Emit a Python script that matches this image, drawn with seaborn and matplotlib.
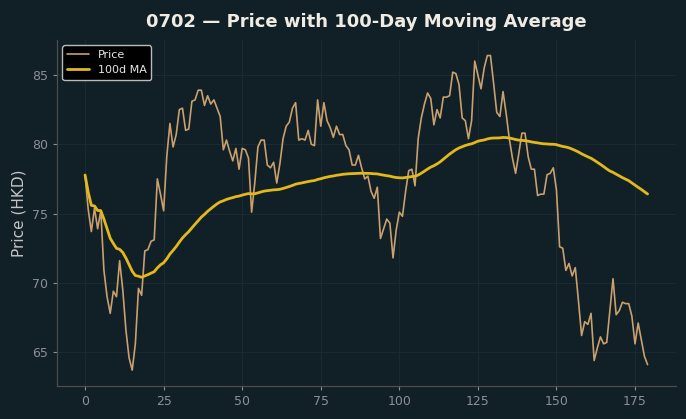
import numpy as np
import pandas as pd
import seaborn as sns
import matplotlib
matplotlib.use("Agg")
import matplotlib.pyplot as plt

# daily closing price (day index 0..179)
price = [
    77.78, 75.3, 73.7, 75.4, 73.9, 75.2, 70.9, 69.0, 67.8, 69.4,
    69.0, 71.6, 69.5, 66.6, 64.6, 63.7, 65.6, 69.6, 69.1, 72.3,
    72.4, 73.0, 73.1, 77.5, 76.4, 75.2, 79.1, 81.5, 79.8, 80.7,
    82.5, 82.6, 81.0, 81.1, 83.1, 83.2, 83.9, 83.9, 82.8, 83.5,
    82.9, 83.2, 82.6, 82.0, 79.6, 80.3, 79.5, 78.8, 79.7, 78.2,
    79.7, 79.6, 79.0, 75.1, 77.2, 79.8, 80.3, 80.3, 78.5, 78.3,
    78.7, 77.2, 78.6, 80.4, 81.3, 81.6, 82.6, 83.0, 80.3, 80.4,
    80.3, 81.0, 80.0, 79.9, 83.2, 81.3, 83.0, 81.7, 81.2, 80.5,
    81.3, 80.7, 80.7, 79.9, 79.6, 78.5, 78.5, 79.2, 78.3, 77.5,
    77.7, 76.6, 76.1, 76.9, 73.2, 73.9, 74.6, 74.3, 71.8, 73.8,
    75.1, 74.8, 76.6, 78.1, 78.2, 77.0, 80.4, 81.9, 82.9, 83.7,
    83.3, 81.4, 82.5, 81.9, 83.4, 83.4, 83.5, 85.2, 85.1, 84.3,
    81.9, 81.7, 80.4, 81.7, 86.0, 85.0, 84.0, 85.5, 86.4, 86.4,
    84.4, 82.3, 82.0, 83.8, 82.2, 80.4, 79.0, 77.9, 79.3, 80.8,
    80.8, 79.1, 78.2, 78.2, 76.3, 76.4, 76.4, 77.8, 77.9, 78.3,
    76.7, 72.6, 72.5, 70.9, 71.4, 70.5, 71.1, 68.7, 66.2, 67.2,
    67.0, 67.8, 64.4, 65.3, 66.1, 65.6, 65.7, 68.0, 70.3, 67.7,
    68.0, 68.6, 68.5, 68.5, 67.6, 65.6, 67.1, 65.9, 64.7, 64.1,
]

# 100-day moving average as drawn in the chart
ma100 = [
    77.78, 76.54, 75.59, 75.55, 75.22, 75.21, 74.60, 73.90, 73.22, 72.84,
    72.49, 72.42, 72.19, 71.79, 71.31, 70.84, 70.53, 70.48, 70.40, 70.50,
    70.59, 70.70, 70.80, 71.08, 71.30, 71.45, 71.73, 72.08, 72.34, 72.62,
    72.94, 73.24, 73.48, 73.70, 73.97, 74.23, 74.49, 74.74, 74.94, 75.16,
    75.35, 75.53, 75.70, 75.84, 75.92, 76.02, 76.09, 76.15, 76.22, 76.26,
    76.33, 76.39, 76.44, 76.42, 76.43, 76.49, 76.56, 76.62, 76.65, 76.68,
    76.71, 76.72, 76.75, 76.81, 76.88, 76.95, 77.03, 77.12, 77.17, 77.21,
    77.26, 77.31, 77.35, 77.38, 77.46, 77.51, 77.58, 77.63, 77.68, 77.71,
    77.76, 77.79, 77.83, 77.85, 77.87, 77.88, 77.89, 77.90, 77.91, 77.90,
    77.90, 77.89, 77.87, 77.86, 77.81, 77.77, 77.73, 77.70, 77.64, 77.60,
    77.58, 77.57, 77.60, 77.63, 77.67, 77.69, 77.78, 77.91, 78.06, 78.21,
    78.35, 78.45, 78.58, 78.73, 78.92, 79.11, 79.29, 79.45, 79.61, 79.73,
    79.82, 79.91, 79.98, 80.03, 80.12, 80.22, 80.27, 80.31, 80.38, 80.43,
    80.45, 80.45, 80.46, 80.49, 80.48, 80.45, 80.40, 80.34, 80.30, 80.28,
    80.26, 80.22, 80.17, 80.13, 80.10, 80.06, 80.03, 80.02, 80.00, 80.00,
    79.97, 79.90, 79.84, 79.80, 79.74, 79.65, 79.55, 79.44, 79.31, 79.20,
    79.09, 78.99, 78.85, 78.70, 78.55, 78.39, 78.22, 78.07, 77.97, 77.84,
    77.72, 77.59, 77.48, 77.37, 77.21, 77.05, 76.89, 76.74, 76.57, 76.41,
]

days = np.arange(len(price))
df = pd.DataFrame({"day": days, "Price": price, "100d MA": ma100})

bg = "#111f26"
sns.set_theme(style="dark")
plt.rcParams["font.family"] = ["DejaVu Sans"]

fig, ax = plt.subplots(figsize=(6.86, 4.19), dpi=100)
fig.patch.set_facecolor(bg)
ax.set_facecolor(bg)

sns.lineplot(data=df, x="day", y="Price", ax=ax, color="#c9a06e", linewidth=1.2, label="Price")
sns.lineplot(data=df, x="day", y="100d MA", ax=ax, color="#e3b81c", linewidth=2.0, label="100d MA")

ax.set_title("0702 \u2014 Price with 100-Day Moving Average", fontsize=13, fontweight="bold", color="#f0ece4", pad=9)
ax.set_xlabel("")
ax.set_ylabel("Price (HKD)", fontsize=11, color="#c4c4c4")
ax.set_xticks([0, 25, 50, 75, 100, 125, 150, 175])
ax.set_yticks([65, 70, 75, 80, 85])
ax.tick_params(colors="#8a9096", labelsize=9, length=3, width=0.8, bottom=True, left=True)
ax.grid(True, color="#1b2b33", linewidth=0.7)
for side in ["top", "right"]:
    ax.spines[side].set_visible(False)
for side in ["left", "bottom"]:
    ax.spines[side].set_visible(True)
    ax.spines[side].set_color("#4d4d4d")
    ax.spines[side].set_linewidth(0.9)

leg = ax.legend(loc="upper left", fontsize=8, facecolor="black", edgecolor="#bbbbbb", framealpha=1.0)
for t in leg.get_texts():
    t.set_color("#e6e6e6")

plt.subplots_adjust(left=0.083, right=0.985, bottom=0.079, top=0.905)
plt.savefig("out.png", dpi=100, facecolor=bg)
